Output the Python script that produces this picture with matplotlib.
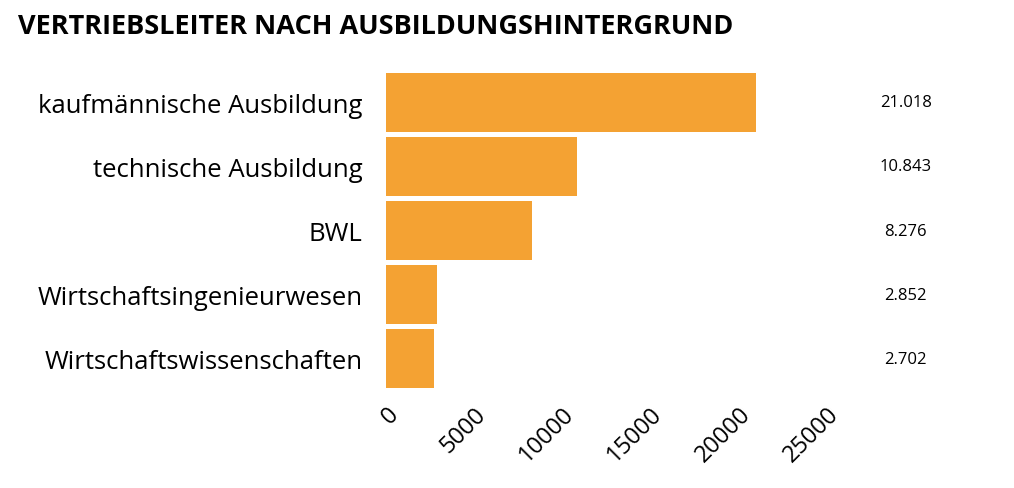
import matplotlib
matplotlib.use("Agg")
import matplotlib.pyplot as plt

categories = ["kaufmännische Ausbildung", "technische Ausbildung", "BWL",
              "Wirtschaftsingenieurwesen", "Wirtschaftswissenschaften"]
values = [21018, 10843, 8276, 2852, 2702]
value_labels = ["21.018", "10.843", "8.276", "2.852", "2.702"]
xticks = [0, 5000, 10000, 15000, 20000, 25000]

plt.rcParams['font.family'] = ['Open Sans', 'DejaVu Sans']
fig = plt.figure(figsize=(10.14, 4.89), dpi=100)
ax = fig.add_axes([0.381, 0.199, 0.434, 0.655])
y = list(range(len(categories)))
ax.barh(y, values, height=0.92, color="#F4A233")
ax.set_ylim(len(categories) - 0.5, -0.5)
ax.set_xlim(0, 25000)
ax.set_yticks(y)
ax.set_yticklabels(categories, fontsize=18.5)
ax.set_xticks(xticks)
ax.set_xticklabels([str(t) for t in xticks], fontsize=17, rotation=45, ha="right", va="top", rotation_mode="anchor")
ax.tick_params(axis="y", length=0, pad=17)
ax.tick_params(axis="x", length=0, pad=8)
for s in ax.spines.values():
    s.set_visible(False)
for yi, lab in zip(y, value_labels):
    ax.text(29500, yi, lab, ha="center", va="center", fontsize=12, clip_on=False)
fig.text(0.018, 0.945, "VERTRIEBSLEITER NACH AUSBILDUNGSHINTERGRUND", fontsize=19.5,
         fontweight="bold", ha="left", va="center")
fig.savefig("out.png", dpi=100)
